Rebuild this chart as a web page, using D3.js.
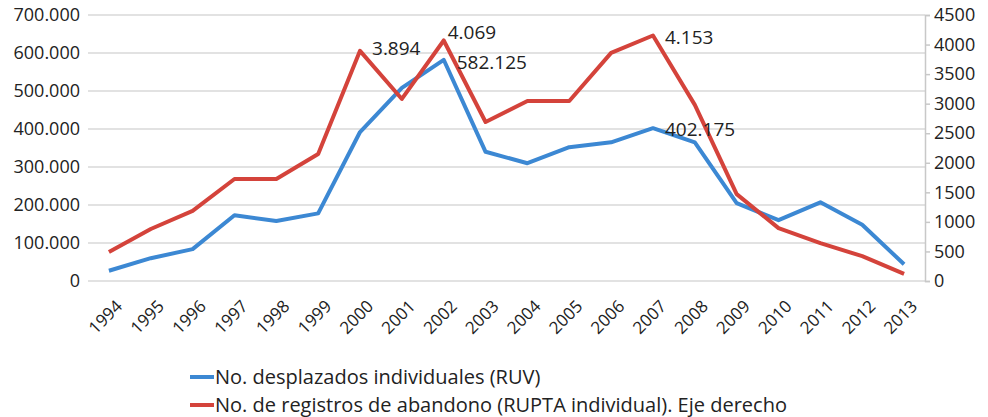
<!DOCTYPE html>
<html>
<head>
<meta charset="utf-8">
<script src="https://cdn.jsdelivr.net/npm/d3@7"></script>
<style>
  body { margin: 0; background: #fff; }
  text { font-family: "Open Sans", sans-serif; fill: #222; }
</style>
</head>
<body>
<svg width="988" height="417"></svg>
<script>
// Data
const years = ['1994', '1995', '1996', '1997', '1998', '1999', '2000', '2001', '2002', '2003',
  '2004', '2005', '2006', '2007', '2008', '2009', '2010', '2011', '2012', '2013'];
const desplazados = [27000, 60000, 84000, 173000, 158000, 178000, 392000, 508000, 582125, 340000,
  310000, 352000, 365000, 402175, 365000, 205000, 160000, 207000, 148000, 44000];
const abandono = [490, 880, 1185, 1725, 1725, 2150, 3894, 3080, 4069, 2690,
  3045, 3045, 3860, 4153, 2980, 1470, 895, 640, 420, 120];
const leftTicks = [0, 100000, 200000, 300000, 400000, 500000, 600000, 700000];
const rightTicks = [0, 500, 1000, 1500, 2000, 2500, 3000, 3500, 4000, 4500];
const seriesNames = ['No. desplazados individuales (RUV)',
  'No. de registros de abandono (RUPTA individual). Eje derecho'];
const labels = [
  {s: 1, year: '2000', text: '3.894', dx: 12, dy: 4},
  {s: 1, year: '2002', text: '4.069', dx: 4, dy: -1},
  {s: 0, year: '2002', text: '582.125', dx: 13, dy: 9},
  {s: 1, year: '2007', text: '4.153', dx: 12, dy: 8},
  {s: 0, year: '2007', text: '402.175', dx: 12, dy: 8}
];

const svg = d3.select('svg');
const colors = ['#3c88d3', '#d4433b'];
const mLeft = 88, mRight = 925, mTop = 15, mBottom = 281;

const x = d3.scalePoint().domain(years).range([mLeft, mRight]).padding(0.5);
const yL = d3.scaleLinear().domain([0, 700000]).range([mBottom, mTop]);
const yR = d3.scaleLinear().domain([0, 4500]).range([mBottom, mTop]);
const fmt = d3.formatLocale({decimal: ',', thousands: '.', grouping: [3], currency: ['', '']}).format(',');

// gridlines
svg.append('g')
  .selectAll('line')
  .data(leftTicks)
  .join('line')
  .attr('x1', mLeft)
  .attr('x2', mRight)
  .attr('y1', d => yL(d))
  .attr('y2', d => yL(d))
  .style('stroke', '#d9d9d9')
  .style('stroke-width', 1.5);

// left axis labels
svg.append('g')
  .selectAll('text')
  .data(leftTicks)
  .join('text')
  .attr('x', 80)
  .attr('y', d => yL(d))
  .attr('dy', '0.35em')
  .attr('text-anchor', 'end')
  .style('font-size', '18px')
  .text(d => fmt(d));

// right axis
const ra = svg.append('g')
  .attr('transform', `translate(${mRight},0)`)
  .call(d3.axisRight(yR).tickValues(rightTicks).tickSize(5).tickPadding(4).tickFormat(d3.format('d')));
ra.select('.domain').style('stroke', '#c8c8c8').style('stroke-width', 1.5);
ra.selectAll('.tick line').style('stroke', '#c8c8c8').style('stroke-width', 1.5);
ra.selectAll('.tick text').style('font-size', '18px').style('font-family', '"Open Sans", sans-serif').attr('fill', '#222');

// x labels
svg.append('g')
  .selectAll('text')
  .data(years)
  .join('text')
  .attr('transform', d => `translate(${x(d) + 6},${mBottom + 18}) rotate(-45)`)
  .attr('text-anchor', 'end')
  .attr('dy', '0.7em')
  .style('font-size', '17px')
  .text(d => d);

// lines
const lineL = d3.line().x((d, i) => x(years[i])).y(d => yL(d));
const lineR = d3.line().x((d, i) => x(years[i])).y(d => yR(d));

svg.append('path')
  .attr('d', lineL(desplazados))
  .attr('fill', 'none')
  .style('stroke', colors[0])
  .style('stroke-width', 4)
  .style('stroke-linejoin', 'round');

svg.append('path')
  .attr('d', lineR(abandono))
  .attr('fill', 'none')
  .style('stroke', colors[1])
  .style('stroke-width', 4)
  .style('stroke-linejoin', 'round');

// data labels
svg.append('g')
  .selectAll('text')
  .data(labels)
  .join('text')
  .attr('x', d => x(d.year) + d.dx)
  .attr('y', d => {
    const i = years.indexOf(d.year);
    return (d.s === 0 ? yL(desplazados[i]) : yR(abandono[i])) + d.dy;
  })
  .style('font-size', '19px')
  .text(d => d.text);

// legend
const lg = svg.append('g')
  .selectAll('g')
  .data(seriesNames)
  .join('g')
  .attr('transform', (d, i) => `translate(190,${377 + i * 28})`);
lg.append('line')
  .attr('x1', 0)
  .attr('x2', 24)
  .style('stroke', (d, i) => colors[i])
  .style('stroke-width', 4);
lg.append('text')
  .attr('x', 25)
  .attr('dy', '0.35em')
  .style('font-size', '20px')
  .text(d => d);
</script>
</body>
</html>
